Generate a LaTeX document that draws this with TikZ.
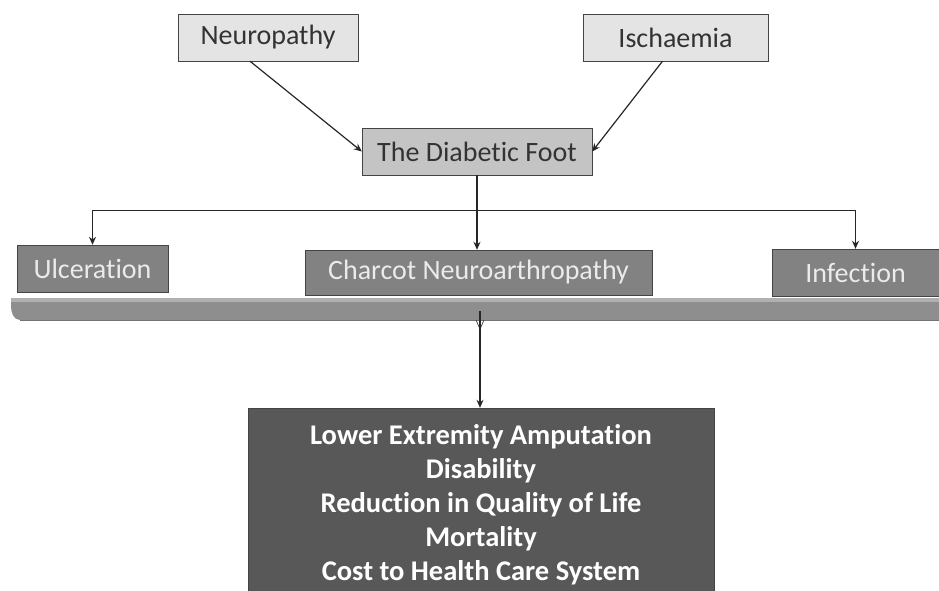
\documentclass[tikz,border=0pt]{standalone}
\usepackage{fontspec}
\setmainfont{Carlito}[Ligatures=NoCommon]
\usetikzlibrary{arrows.meta}
\definecolor{boxlight}{HTML}{E4E4E4}
\definecolor{boxmid}{HTML}{C4C4C4}
\definecolor{boxdark}{HTML}{828282}
\definecolor{boxdeep}{HTML}{585858}
\definecolor{barfill}{HTML}{8E8E8E}
\definecolor{edgegray}{HTML}{444444}
\tikzset{
  cause/.style={draw=edgegray,fill=boxlight,text=black!80,inner sep=0pt,font=\fontsize{28}{32}\selectfont},
  effect/.style={draw=edgegray,fill=boxdark,text=white!92!black,inner sep=0pt,font=\fontsize{28}{32}\selectfont},
  link/.style={-{Stealth[length=8pt,width=7pt]},line width=1.2pt,black!85}
}
\begin{document}
\begin{tikzpicture}[x=1pt,y=-1pt]
  \useasboundingbox (0,0) rectangle (939,591);
  \node (neuro) at (268,37.5) [cause,minimum width=180pt,minimum height=47pt] {Neuropathy};
  \node (isch) at (675.5,37.5) [cause,minimum width=185pt,minimum height=47pt] {Ischaemia};
  \node (foot) at (477,151.5) [cause,fill=boxmid,minimum width=230pt,minimum height=47pt] {The Diabetic Foot};
  \node (ulcer) at (92.5,268.5) [effect,minimum width=151pt,minimum height=47pt] {Ulceration};
  \node (charcot) at (478.5,272.5) [effect,minimum width=347pt,minimum height=45pt] {Charcot Neuroarthropathy};
  \node (infect) at (855.5,272.5) [effect,minimum width=167pt,minimum height=47pt] {Infection};
  % the bar under the three complications
  \fill[barfill] (11,298) -- (939,298) -- (939,320) -- (20,320) to[out=180,in=270] (11,306) -- cycle;
  \fill[white!30!barfill] (11,298) rectangle (939,302);
  \draw[black!55,line width=0.8pt] (20,320) -- (939,320);
  \coordinate (notch) at (480,320);
  \draw[black!70,line width=0.8pt] (476,320) -- (480,329) -- (484,320);
  \node (outcome) at (481,499.5) [draw=edgegray,fill=boxdeep,minimum width=466pt,minimum height=183pt,inner sep=0pt] {};
  \node (outcometext) at (481,505) [text=white,align=center,inner sep=0pt,font=\fontsize{28.5}{34}\selectfont\bfseries]
    {Lower Extremity Amputation\\Disability\\Reduction in Quality of Life\\Mortality\\Cost to Health Care System};
  \draw[link] ([xshift=-18pt]neuro.south) -- (foot.west);
  \draw[link] ([xshift=-13pt]isch.south) -- (foot.east);
  \draw[line width=1.2pt,black!85] (foot.south) -- ++(0,35) coordinate (split);
  \draw[link] (split) -| (ulcer.north);
  \draw[link] (split) -| (infect.north);
  \draw[link] (split) -- (split |- charcot.north);
  \draw[link] ([yshift=9pt]notch) -- (notch |- outcome.north);
\end{tikzpicture}
\end{document}
